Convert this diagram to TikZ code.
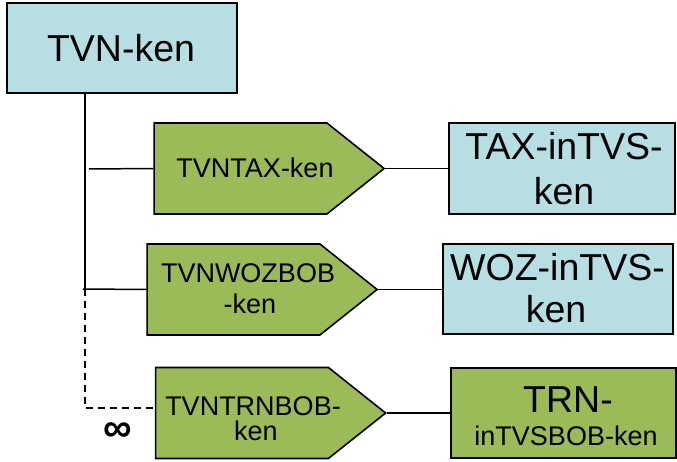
\documentclass[tikz,border=0pt]{standalone}
\usepackage{fontspec}
\setmainfont{Liberation Sans}
\usetikzlibrary{shapes.symbols}
\definecolor{boxblue}{HTML}{B7DEE3}
\definecolor{boxgreen}{HTML}{9BBB59}
\begin{document}
\begin{tikzpicture}[x=1pt,y=-1pt,
  boxbase/.style={draw=black, line width=1.6pt, inner sep=0pt, minimum width=#1},
  bluebox/.style={boxbase=#1, fill=boxblue, minimum height=90pt},
  greenbox/.style={boxbase=#1, fill=boxgreen, minimum height=90pt},
  arrowbox/.style={draw=black, line width=1.6pt, fill=boxgreen, shape=signal,
    signal to=east, signal from=nowhere, signal pointer angle=77,
    minimum width=230pt, minimum height=91pt, inner sep=0pt},
  txt/.style={anchor=base, inner sep=0pt, font=\fontsize{#1}{#1}\selectfont},
  conn/.style={line width=1.5pt},
  dconn/.style={line width=1.5pt, dash pattern=on 7pt off 5pt}]
\useasboundingbox (0,0) rectangle (677,462);
% boxes
\node[bluebox=230pt] (tvn) at (122,48) {};
\node[arrowbox] (p1) at (240.5,168.5) {};
\node[arrowbox] (p2) at (233.5,289.5) {};
\node[arrowbox] (p3) at (242,413) {};
\node[bluebox=226pt, minimum height=91pt] (tax) at (562,168.5) {};
\node[bluebox=230pt] (woz) at (558,289) {};
\node[greenbox=225pt] (trn) at (563.5,413) {};
% texts
\node[txt=37.5] (tTVN) at (121,62) {TVN-ken};
\node[txt=27] (tP1) at (255,178) {TVNTAX-ken};
\node[txt=27] (tP2a) at (248,283) {TVNWOZBOB};
\node[txt=27] (tP2b) at (250,313) {-ken};
\node[txt=27] (tP3a) at (253,415) {TVNTRNBOB-};
\node[txt=27] (tP3b) at (256,440) {ken};
\node[txt=37.5] (tTAXa) at (564,160) {TAX-inTVS-};
\node[txt=37.5] (tTAXb) at (564,205) {ken};
\node[txt=37.5] (tWOZa) at (557.5,280) {WOZ-inTVS-};
\node[txt=37.5] (tWOZb) at (556,322) {ken};
\node[txt=37.5] (tTRNa) at (568,412) {TRN-};
\node[txt=27] (tTRNb) at (566,445) {inTVSBOB-ken};
\node[inner sep=0pt, font=\fontsize{40}{40}\selectfont\bfseries] (inf) at (118,432) {∞};
% junction coordinates
\coordinate (j1) at (89,169);
\coordinate (j2) at (83,289);
\coordinate (j3) at (85,408);
% connectors
\draw[conn] (tvn.south -| j3) -- (j2 -| j3);
\draw[conn] (j1) -- (p1.west);
\draw[conn] (j2) -- (p2.west);
\draw[dconn] (j2 -| j3) -- (j3) -- (p3.west |- j3);
\draw[conn] (p1.east) -- (tax.west |- p1.east);
\draw[conn] (p2.east) -- (woz.west |- p2.east);
\draw[conn] (p3.east) -- (trn.west |- p3.east);
\end{tikzpicture}
\end{document}
